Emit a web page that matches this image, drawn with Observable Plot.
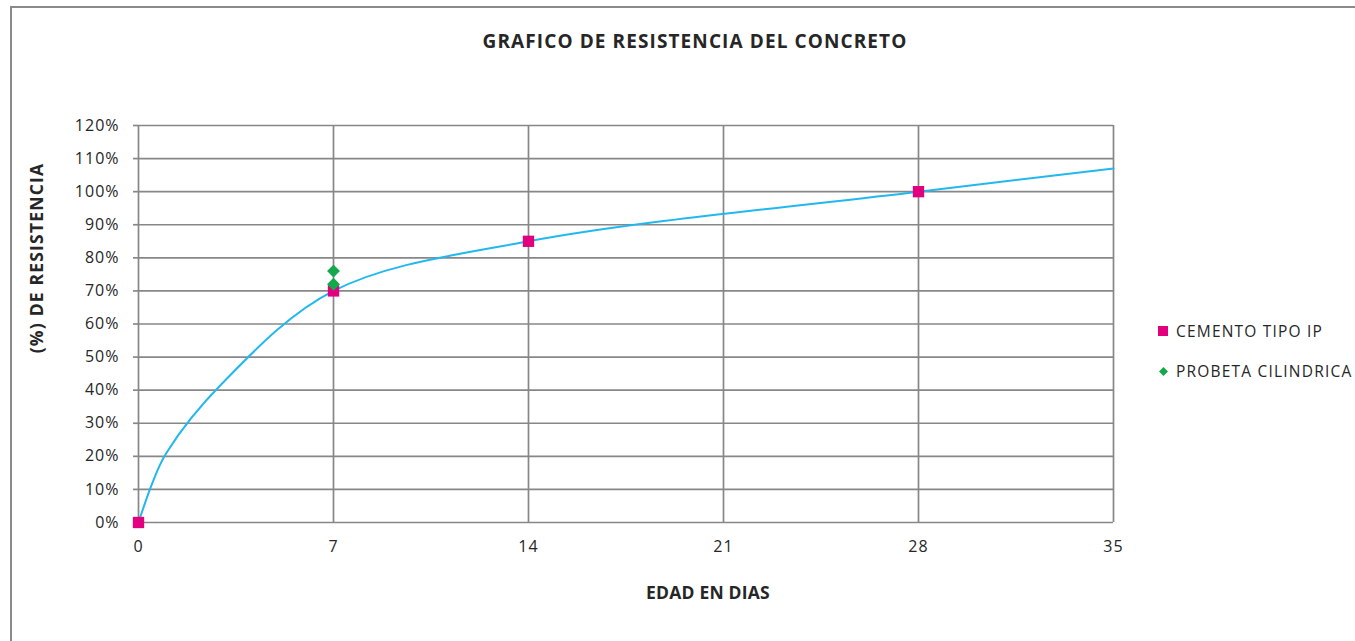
<!DOCTYPE html>
<html>
<head>
<meta charset="utf-8">
<script src="https://cdn.jsdelivr.net/npm/d3@7"></script>
<script src="https://cdn.jsdelivr.net/npm/@observablehq/plot@0.6"></script>
<style>
  html, body { margin: 0; padding: 0; background: #fff; }
  #wrap { position: relative; width: 1355px; height: 641px; overflow: hidden; font-family: "Open Sans", Lato, sans-serif; color: #262626; }
  #border { position: absolute; left: 10px; top: 6px; width: 1500px; height: 800px; border: 2px solid #8a8a8a; box-sizing: border-box; }
  #chart { position: absolute; left: 0; top: 0; }
  .title { position: absolute; left: 695px; top: 41px; transform: translate(-50%, -50%); font-weight: 700; font-size: 19px; white-space: nowrap; letter-spacing: 1.1px; }
  .xlabel { position: absolute; left: 708px; top: 592px; transform: translate(-50%, -50%); font-weight: 700; font-size: 17.5px; white-space: nowrap; letter-spacing: 0.2px; }
  .ylabel { position: absolute; left: 36px; top: 258px; transform: translate(-50%, -50%) rotate(-90deg); font-weight: 700; font-size: 17.5px; white-space: nowrap; letter-spacing: 1.2px; }
  .legend { position: absolute; left: 1157px; top: 318px; font-size: 15.5px; letter-spacing: 1.2px; }
  .legend .row { display: flex; align-items: center; height: 26px; margin-bottom: 14px; white-space: nowrap; }
  .legend .sw { width: 12px; height: 12px; display: flex; align-items: center; justify-content: center; margin-right: 7px; }
  #chart svg text { letter-spacing: 1px; }
</style>
</head>
<body>
<div id="wrap">
  <div id="border"></div>
  <div id="chart"></div>
  <div class="title">GRAFICO DE RESISTENCIA DEL CONCRETO</div>
  <div class="ylabel">(%) DE RESISTENCIA</div>
  <div class="xlabel">EDAD EN DIAS</div>
  <div class="legend" id="legend"></div>
</div>
<script>
// Ensayos del cemento tipo IP (edad en días, resistencia relativa)
const diasCemento = [0, 7, 14, 28];
const resCemento = [0, 0.70, 0.85, 1.00];

// Probetas cilíndricas ensayadas a los 7 días
const diasProbeta = [7, 7];
const resProbeta = [0.72, 0.76];

// Curva de desarrollo de resistencia
const diasCurva = [0, 0.5, 1, 3, 7, 14, 28, 35];
const resCurva = [0, 0.12, 0.21, 0.42, 0.70, 0.85, 1.00, 1.07];

// Ejes
const xTicks = [0, 7, 14, 21, 28, 35];
const yTicks = [0, 0.1, 0.2, 0.3, 0.4, 0.5, 0.6, 0.7, 0.8, 0.9, 1.0, 1.1, 1.2];

const series = [
  {name: "CEMENTO TIPO IP", color: "#e2007f"},
  {name: "PROBETA CILINDRICA", color: "#14a84c"}
];

const cemento = diasCemento.map((d, i) => ({dia: d, res: resCemento[i]}));
const probeta = diasProbeta.map((d, i) => ({dia: d, res: resProbeta[i]}));
const curva = diasCurva.map((d, i) => ({dia: d, res: resCurva[i]}));

const gridColor = "#878787";
const pct = d3.format(".0%");

const chart = Plot.plot({
  width: 1355,
  height: 641,
  marginLeft: 138,
  marginRight: 242,
  marginTop: 125,
  marginBottom: 119,
  style: {fontFamily: "'Open Sans', Lato, sans-serif", fontSize: "16px", color: "#262626", background: "transparent"},
  x: {domain: [0, 35], ticks: xTicks},
  y: {domain: [0, 1.2], ticks: yTicks},
  marks: [
    Plot.gridY(yTicks, {stroke: gridColor, strokeOpacity: 1, strokeWidth: 1.7}),
    Plot.gridX(xTicks, {stroke: gridColor, strokeOpacity: 1, strokeWidth: 1.7}),
    Plot.axisY(yTicks, {tickFormat: pct, tickSize: 5, tickPadding: 14, stroke: gridColor, strokeWidth: 1.7, label: null, fontSize: 16}),
    Plot.axisX(xTicks, {tickSize: 0, tickPadding: 18, label: null, fontSize: 16}),
    Plot.line(curva, {x: "dia", y: "res", curve: "catmull-rom", stroke: "#22b8ee", strokeWidth: 2}),
    Plot.dot(cemento, {x: "dia", y: "res", symbol: "square", r: 6.4, fill: series[0].color, stroke: "none"}),
    Plot.dot(probeta, {x: "dia", y: "res", symbol: "diamond2", r: 5.8, fill: series[1].color, stroke: "none"})
  ]
});
document.getElementById("chart").appendChild(chart);

// Leyenda
const legend = document.getElementById("legend");
const shapes = [
  `<svg width="10" height="10"><rect x="0" y="0" width="10" height="10" fill="${series[0].color}"/></svg>`,
  `<svg width="9" height="9"><path d="M4.5 0L9 4.5L4.5 9L0 4.5Z" fill="${series[1].color}"/></svg>`
];
series.forEach((s, i) => {
  const row = document.createElement("div");
  row.className = "row";
  row.innerHTML = `<span class="sw">${shapes[i]}</span><span>${s.name}</span>`;
  legend.appendChild(row);
});
</script>
</body>
</html>
